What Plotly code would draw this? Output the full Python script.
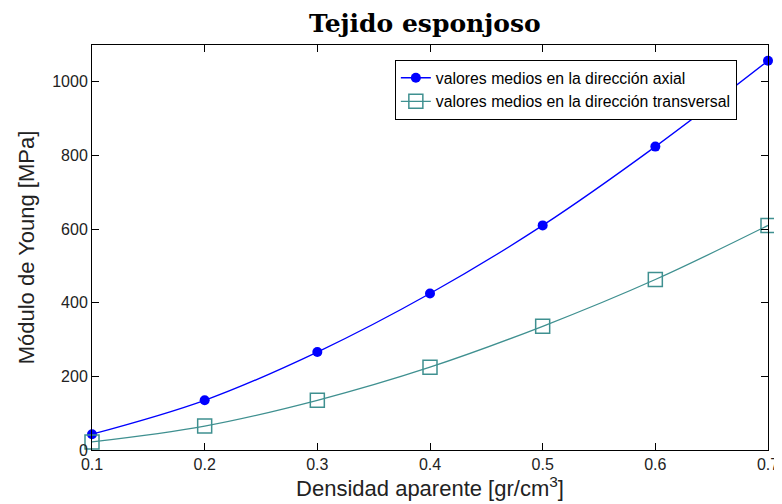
import plotly.graph_objects as go

densidad = [0.1, 0.2, 0.3, 0.4, 0.5, 0.6, 0.7]
axial = [43, 135, 266, 425, 610, 824, 1057]
transversal = [22, 65, 135, 225, 336, 463, 610]
x_ticks = [0.1, 0.2, 0.3, 0.4, 0.5, 0.6, 0.7]
y_ticks = [0, 200, 400, 600, 800, 1000]

teal = "#3f9090"
sans = "Liberation Sans, Arial, sans-serif"
fig = go.Figure()
fig.add_trace(go.Scatter(
    x=densidad, y=axial, mode="lines+markers",
    name="valores medios en la dirección axial",
    line=dict(color="#0000ff", width=1.3, shape="spline"),
    marker=dict(symbol="circle", size=10, color="#0000ff"),
    cliponaxis=False,
))
fig.add_trace(go.Scatter(
    x=densidad, y=transversal, mode="lines+markers",
    name="valores medios en la dirección transversal",
    line=dict(color=teal, width=1.3, shape="spline"),
    marker=dict(symbol="square-open", size=14, color=teal, line=dict(width=1.5, color=teal)),
    cliponaxis=False,
))

axis_common = dict(
    showgrid=False, zeroline=False, showline=True, linecolor="black", linewidth=1,
    mirror="ticks", ticks="inside", ticklen=7, tickcolor="black",
    tickfont=dict(family=sans, size=16, color="#222"),
)
fig.update_xaxes(range=[0.1, 0.7], tickvals=x_ticks, ticktext=[str(v) for v in x_ticks],
                 title=dict(text="Densidad aparente [gr/cm<sup>3</sup>]", standoff=0,
                            font=dict(family=sans, size=22, color="#222")),
                 **axis_common)
fig.update_yaxes(range=[0, 1100], tickvals=y_ticks,
                 title=dict(text="Módulo de Young [MPa]", standoff=11,
                            font=dict(family=sans, size=22, color="#222")),
                 **axis_common)

fig.update_layout(
    width=782, height=504,
    margin=dict(l=84, r=22, t=37, b=62),
    paper_bgcolor="white", plot_bgcolor="white",
    title=dict(text="<b>Tejido esponjoso</b>", x=0.533, xanchor="center", y=0.970, yanchor="middle",
               font=dict(family="DejaVu Serif, Liberation Serif, serif", size=25, color="black")),
    legend=dict(x=0.448, y=0.963, xanchor="left", yanchor="top",
                bgcolor="white", bordercolor="black", borderwidth=1,
                font=dict(family=sans, size=15.8, color="black"),
                tracegroupgap=0, itemwidth=30),
    showlegend=True,
)

fig.write_html("out.html")
